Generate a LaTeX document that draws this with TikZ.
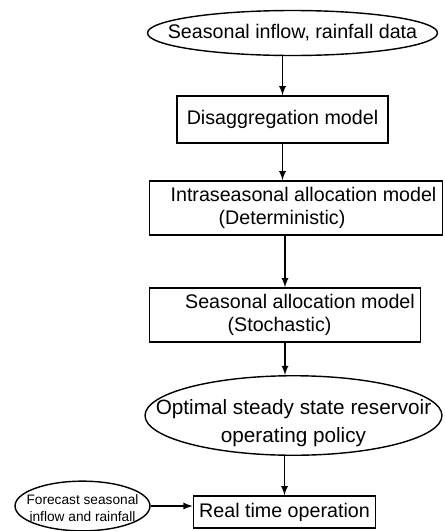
\documentclass[tikz,border=0pt]{standalone}
\usepackage{fontspec}
\setmainfont{Liberation Sans}
\usetikzlibrary{shapes.geometric}
\begin{document}
\begin{tikzpicture}[x=0.02cm, y=-0.02cm,
    box/.style={rectangle, thick, draw, inner ysep=1pt, align=left, font=\fontsize{11.2}{13.5}\selectfont},
    oval/.style={ellipse, thick, draw, inner sep=0pt, font=\fontsize{11.2}{13.5}\selectfont}]
  \useasboundingbox (0,0) rectangle (445,531);
  \node [oval, minimum width=5.8cm, minimum height=0.9cm] at (292.5,33) (data) {\makebox[0pt]{Seasonal inflow, rainfall data}} ;
  \node [box, minimum width=4.22cm, minimum height=0.94cm] at (282.5,119.5) (dis) {Disaggregation model} ;
  \node [box, minimum width=5.84cm, minimum height=1.08cm] at (296,208) (intra) {\hspace*{0.3cm}Intraseasonal allocation model\\\hspace*{1.26cm}(Deterministic)} ;
  \node [box, minimum width=5.4cm, minimum height=1.08cm] at (285,315) (seas) {\hspace*{0.6cm}Seasonal allocation model\\\hspace*{1.45cm}(Stochastic)} ;
  \node [oval, minimum width=5.94cm, minimum height=1.42cm, font=\fontsize{11.8}{16}\selectfont] at (293.5,415.5) (opt) {\makebox[0pt]{\raisebox{-4pt}[\height][\depth]{\begin{tabular}{@{}c@{}}Optimal steady state reservoir\\operating policy\end{tabular}}}} ;
  \node [box, minimum width=3.58cm, minimum height=0.64cm] at (284.5,512) (real) {Real time operation} ;
  \node [oval, minimum width=2.7cm, minimum height=0.96cm, font=\fontsize{7.8}{10}\selectfont] at (82.5,506) (fore) {\makebox[0pt]{\raisebox{-2pt}[\height][\depth]{\begin{tabular}{@{}c@{}}Forecast seasonal\\inflow and rainfall\end{tabular}}}} ;
  \draw[thick,-latex] (data.south -| dis) -- (dis) ;
  \draw[thick,-latex] (dis) -- (intra.north -| dis) ;
  \draw[thick,-latex] (intra.south -| seas) -- (seas) ;
  \draw[thick,-latex] (seas) -- (opt.north -| seas) ;
  \draw[thick,-latex] (opt.south -| real) -- (real) ;
  \draw[thick,-latex] (fore) -- (fore -| real.west) ;
\end{tikzpicture}
\end{document}
